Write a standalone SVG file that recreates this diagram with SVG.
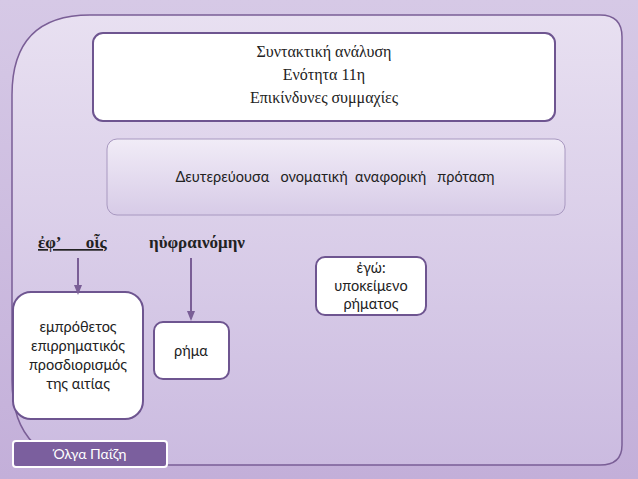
<svg xmlns="http://www.w3.org/2000/svg" width="638" height="479" viewBox="0 0 638 479">
<defs>
<linearGradient id="bg" x1="0" y1="0" x2="0" y2="1"><stop offset="0" stop-color="#d6c9e6"/><stop offset="1" stop-color="#c3afd9"/></linearGradient>
<linearGradient id="pn" x1="0" y1="0" x2="0" y2="1"><stop offset="0" stop-color="#e8e0f1"/><stop offset="1" stop-color="#cbbbe0"/></linearGradient>
<linearGradient id="bx" x1="0" y1="0" x2="0" y2="1"><stop offset="0" stop-color="#f1ecf7"/><stop offset="1" stop-color="#d7cbe7"/></linearGradient>
<marker id="ar" viewBox="0 0 10 10" refX="5" refY="5" markerWidth="5" markerHeight="5" orient="auto"><path d="M0,1 L10,5 L0,9z" fill="#7a5e96"/></marker>
<style>
.s{font-family:"Liberation Serif",serif;fill:#222}
.t{font-family:"Lato","Open Sans",sans-serif;fill:#222;font-size:14.5px;text-anchor:middle}
.w{fill:#fff;stroke:#6e5590;stroke-width:2}
</style>
</defs>
<rect width="638" height="479" fill="url(#bg)"/>
<path d="M90,15 H600 Q622,15 622,37 V445 Q622,465 600,465 H100 Q12,465 12,380 V95 Q12,15 90,15Z" fill="url(#pn)" stroke="#7a5e96" stroke-width="1.5"/>
<g id="title"><rect x="93" y="33" width="462" height="88" rx="10" class="w"/>
<text class="s" font-size="16" text-anchor="middle"><tspan x="324" y="57">Συντακτική ανάλυση</tspan><tspan x="324" y="80">Ενότητα 11η</tspan><tspan x="324" y="103">Επικίνδυνες συμμαχίες</tspan></text></g>
<g id="sub"><rect x="107" y="139" width="458" height="76" rx="10" fill="url(#bx)" stroke="#a898c0" stroke-width="1"/>
<text class="t" x="335" y="182" xml:space="preserve">Δευτερεύουσα   ονοματική  αναφορική   πρόταση</text></g>
<g id="words"><text class="s" x="38" y="248" font-size="17" font-weight="bold" text-decoration="underline" xml:space="preserve">ἐφ’      οἷς</text>
<text class="s" x="149" y="248" font-size="17" font-weight="bold">ηὐφραινόμην</text></g>
<g id="ego"><rect x="316" y="257" width="110" height="58" rx="9" class="w"/>
<text class="t"><tspan x="371" y="273">ἐγώ:</tspan><tspan x="371" y="291">υποκείμενο</tspan><tspan x="371" y="309">ρήματος</tspan></text></g>
<g id="emp"><rect x="13" y="292" width="130" height="127" rx="18" class="w"/>
<text class="t"><tspan x="78" y="332">εμπρόθετος</tspan><tspan x="78" y="351">επιρρηματικός</tspan><tspan x="78" y="370">προσδιορισμός</tspan><tspan x="78" y="389">της αιτίας</tspan></text></g>
<g id="rima"><rect x="154" y="322" width="75" height="57" rx="9" class="w"/>
<text class="t" x="191" y="356">ρήμα</text></g>
<g id="conn" stroke="#7a5e96" stroke-width="2" marker-end="url(#ar)"><line x1="78" y1="258" x2="78" y2="290"/><line x1="191" y1="258" x2="191" y2="316"/></g>
<g id="auth"><rect x="13" y="441" width="154" height="26" rx="3" fill="#7b5f9e" stroke="#fff" stroke-width="2"/>
<text x="90" y="459" font-family="Lato,sans-serif" font-size="14" fill="#fff" text-anchor="middle">Όλγα Παΐζη</text></g>
</svg>
